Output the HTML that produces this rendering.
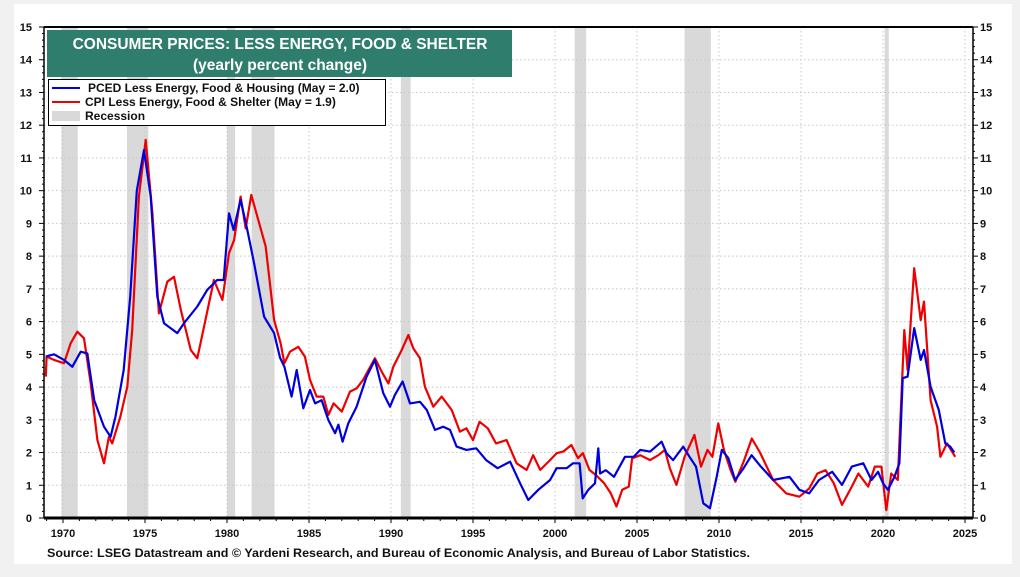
<!DOCTYPE html>
<html><head><meta charset="utf-8">
<style>
html,body{margin:0;padding:0;background:#f1f1f1;}
body{width:1020px;height:577px;overflow:hidden;position:relative;font-family:"Liberation Sans",Arial,sans-serif;}
#card{position:absolute;left:14px;top:4px;width:998px;height:560px;background:#fff;}
svg{position:absolute;left:0;top:0;}
</style></head>
<body>
<div id="card"></div>
<svg id="chart" width="1020" height="577"></svg>
<script>
const yearTicks=[1970,1975,1980,1985,1990,1995,2000,2005,2010,2015,2020,2025];
const valueTicks=[0,1,2,3,4,5,6,7,8,9,10,11,12,13,14,15];
const recStart=[1969.9,1973.9,1980.0,1981.5,1990.6,2001.2,2007.9,2020.1];
const recEnd=[1970.9,1975.2,1980.5,1982.9,1991.2,2001.9,2009.5,2020.35];
const pcedYears=[1968.95,1969.45,1970.06,1970.57,1971.08,1971.48,1971.9,1972.5,1972.9,1973.2,1973.7,1974.1,1974.5,1974.94,1975.35,1975.75,1976.16,1976.97,1977.38,1978.19,1978.8,1979.4,1979.8,1980.12,1980.4,1980.83,1981.24,1981.65,1982.26,1982.87,1983.23,1983.5,1983.94,1984.25,1984.65,1985.06,1985.37,1985.77,1986.18,1986.59,1986.79,1987.05,1987.4,1987.9,1988.51,1989.02,1989.53,1989.94,1990.24,1990.71,1991.16,1991.77,1992.18,1992.68,1993.19,1993.6,1994.0,1994.6,1995.2,1995.8,1996.5,1997.26,1997.87,1998.37,1998.98,1999.7,2000.1,2000.71,2001.1,2001.5,2001.69,2002.03,2002.44,2002.64,2002.75,2003.1,2003.6,2004.27,2004.8,2005.2,2005.8,2006.5,2006.8,2007.2,2007.82,2008.2,2008.6,2009.04,2009.45,2009.86,2010.17,2010.57,2010.98,2011.5,2011.99,2012.5,2013.3,2014.3,2014.9,2015.5,2016.1,2016.9,2017.5,2018.1,2018.8,2019.3,2019.7,2020.0,2020.3,2020.7,2021.0,2021.2,2021.5,2021.9,2022.3,2022.5,2022.9,2023.4,2023.8,2024.1,2024.35];
const pcedValues=[4.93,5.0,4.83,4.62,5.08,5.03,3.6,2.79,2.48,3.1,4.52,6.76,10.0,11.24,9.82,6.76,5.95,5.65,5.95,6.46,6.97,7.27,7.27,9.31,8.8,9.72,8.8,7.78,6.15,5.65,4.9,4.62,3.71,4.52,3.35,3.91,3.5,3.6,2.99,2.59,2.85,2.33,2.9,3.4,4.32,4.83,3.81,3.4,3.76,4.17,3.5,3.55,3.3,2.69,2.79,2.69,2.18,2.08,2.13,1.77,1.52,1.72,1.06,0.55,0.86,1.16,1.52,1.52,1.67,1.67,0.6,0.86,1.06,2.13,1.36,1.46,1.26,1.87,1.87,2.08,2.03,2.33,1.98,1.77,2.18,1.87,1.57,0.45,0.3,1.26,2.08,1.83,1.16,1.52,1.92,1.6,1.16,1.26,0.86,0.75,1.16,1.41,1.01,1.57,1.67,1.16,1.41,1.06,0.86,1.26,1.67,4.27,4.32,5.8,4.83,5.13,4.01,3.3,2.28,2.18,2.0];
const cpiYears=[1968.95,1969.0,1969.45,1970.06,1970.47,1970.87,1971.28,1971.69,1972.1,1972.5,1972.8,1973.0,1973.5,1973.92,1974.22,1974.63,1975.04,1975.45,1975.85,1976.36,1976.77,1977.18,1977.79,1978.19,1978.6,1979.2,1979.72,1980.12,1980.43,1980.83,1981.14,1981.48,1981.85,1982.36,1982.87,1983.27,1983.5,1983.84,1984.35,1984.75,1985.06,1985.47,1985.87,1986.18,1986.5,1987.0,1987.5,1987.9,1988.3,1989.02,1989.43,1989.84,1990.14,1990.65,1991.06,1991.36,1991.77,1992.07,1992.58,1993.09,1993.7,1994.2,1994.6,1995.0,1995.4,1995.9,1996.4,1997.05,1997.66,1998.27,1998.67,1999.1,1999.7,2000.1,2000.5,2001.0,2001.4,2001.7,2002.1,2002.5,2003.0,2003.4,2003.75,2004.1,2004.5,2004.7,2005.2,2005.8,2006.3,2006.7,2007.0,2007.4,2007.9,2008.5,2008.9,2009.3,2009.6,2009.96,2010.3,2010.7,2011.0,2011.5,2012.0,2012.5,2013.3,2014.1,2014.9,2015.5,2016.0,2016.5,2017.0,2017.5,2018.1,2018.5,2019.1,2019.5,2019.9,2020.2,2020.5,2020.9,2021.3,2021.5,2021.9,2022.3,2022.5,2022.9,2023.3,2023.5,2023.9,2024.4];
const cpiValues=[4.32,4.93,4.83,4.73,5.34,5.69,5.49,4.11,2.38,1.67,2.48,2.28,3.1,4.01,5.74,9.82,11.55,9.31,6.25,7.22,7.37,6.36,5.13,4.88,5.84,7.27,6.66,8.09,8.49,9.82,8.85,9.87,9.21,8.29,6.05,5.34,4.73,5.08,5.23,4.93,4.22,3.71,3.71,3.15,3.5,3.25,3.86,3.96,4.22,4.88,4.47,4.11,4.62,5.13,5.59,5.18,4.88,4.01,3.4,3.71,3.3,2.64,2.74,2.38,2.94,2.74,2.28,2.38,1.67,1.47,1.92,1.47,1.77,1.98,2.03,2.23,1.83,1.98,1.47,1.31,1.06,0.75,0.35,0.86,0.96,1.82,1.92,1.77,1.92,2.08,1.52,1.01,1.87,2.54,1.57,2.08,1.87,2.89,2.08,1.47,1.11,1.72,2.43,2.0,1.16,0.75,0.65,0.9,1.36,1.46,1.06,0.4,0.96,1.36,0.96,1.57,1.57,0.24,1.36,1.16,5.74,4.52,7.63,6.05,6.61,3.6,2.79,1.87,2.28,1.87];

const NS='http://www.w3.org/2000/svg';
const svg=document.getElementById('chart');
const L=44,R=973,T=27,B=518;
const xS=y=>63+(y-1970)*16.4;
const yS=v=>B-v*(B-T)/15;
function mk(tag,attrs,parent){const e=document.createElementNS(NS,tag);for(const k in attrs)e.setAttribute(k,attrs[k]);(parent||svg).appendChild(e);return e;}

for(let i=0;i<recStart.length;i++){
  const r=mk('rect',{x:xS(recStart[i]),y:T,width:xS(recEnd[i])-xS(recStart[i]),height:B-T,fill:'#d9d9d9'});
  
  
}
valueTicks.forEach(v=>{
  if(v>0&&v<15){const g=mk('line',{x1:L,x2:R,y1:yS(v),y2:yS(v),stroke:'#c8c8c8','stroke-dasharray':'1.5,2.5','stroke-width':1});
  
  }
  const tl=mk('text',{x:32,y:yS(v)+4,'text-anchor':'end','font-size':11,'font-weight':'bold',fill:'#111'});tl.textContent=v;
  
  
  const tr=mk('text',{x:980,y:yS(v)+4,'text-anchor':'start','font-size':11,'font-weight':'bold',fill:'#111'});tr.textContent=v;
  
  
  mk('line',{x1:L-5,x2:L,y1:yS(v),y2:yS(v),stroke:'#000'});
  mk('line',{x1:R,x2:R+5,y1:yS(v),y2:yS(v),stroke:'#000'});
  if(v<15){for(let k=1;k<5;k++){const yy=yS(v+k/5);mk('line',{x1:L-2,x2:L,y1:yy,y2:yy,stroke:'#000'});mk('line',{x1:R,x2:R+2,y1:yy,y2:yy,stroke:'#000'});}}
});
yearTicks.forEach(y=>{
  const g=mk('line',{x1:xS(y),x2:xS(y),y1:T,y2:B,stroke:'#c8c8c8','stroke-dasharray':'1.5,2.5','stroke-width':1});
  
  
  const t=mk('text',{x:xS(y),y:537,'text-anchor':'middle','font-size':11,'font-weight':'bold',fill:'#111'});t.textContent=y;
  
  
});
for(let y=1969;y<=2025;y++){mk('line',{x1:xS(y),x2:xS(y),y1:B,y2:B+(y%5===0?5:3),stroke:'#000'});}
function series(xs,vs,color,name){
  const d=xs.map((x,i)=>(i?'L':'M')+xS(x).toFixed(1)+','+yS(vs[i]).toFixed(1)).join('');
  const p=mk('path',{d:d,fill:'none',stroke:color,'stroke-width':2.2,'stroke-linejoin':'round'});
  
  
}
series(cpiYears,cpiValues,'#ee0000','cpi-line');
series(pcedYears,pcedValues,'#0000dd','pced-line');
mk('line',{x1:L,x2:L,y1:T,y2:B,stroke:'#000','stroke-width':1.5});
mk('line',{x1:R,x2:R,y1:T,y2:B,stroke:'#000','stroke-width':1.5});
mk('line',{x1:L,x2:R,y1:T,y2:T,stroke:'#000','stroke-width':2});
mk('line',{x1:L,x2:R,y1:B,y2:B,stroke:'#000','stroke-width':3});
</script>
<svg width="1020" height="577" style="position:absolute;left:0;top:0">
  <rect x="47" y="30" width="465" height="47" fill="#2f7d6d"/>
  <text x="280" y="49" text-anchor="middle" font-size="15.5" font-weight="bold" fill="#fff">CONSUMER PRICES: LESS ENERGY, FOOD &amp; SHELTER</text>
  <text x="280" y="70" text-anchor="middle" font-size="15.5" font-weight="bold" fill="#fff">(yearly percent change)</text>
  <g>
    <rect x="48.5" y="79.5" width="337" height="46" fill="#fff" stroke="#000" stroke-width="1"/>
    <line x1="52" x2="80" y1="88" y2="88" stroke="#0000dd" stroke-width="2"/>
    <text x="88" y="92" font-size="12" font-weight="bold" fill="#111">PCED Less Energy, Food &amp; Housing (May = 2.0)</text>
    <line x1="52" x2="80" y1="102" y2="102" stroke="#ee0000" stroke-width="2"/>
    <text x="85" y="106" font-size="12" font-weight="bold" fill="#111">CPI Less Energy, Food &amp; Shelter (May = 1.9)</text>
    <rect x="52" y="111" width="28" height="10" fill="#d9d9d9"/>
    <text x="85" y="120" font-size="12" font-weight="bold" fill="#111">Recession</text>
  </g>
  <text x="47" y="557" font-size="12.4" font-weight="bold" fill="#111" textLength="703" lengthAdjust="spacingAndGlyphs">Source: LSEG Datastream and © Yardeni Research, and Bureau of Economic Analysis, and Bureau of Labor Statistics.</text>
</svg>
</body></html>
